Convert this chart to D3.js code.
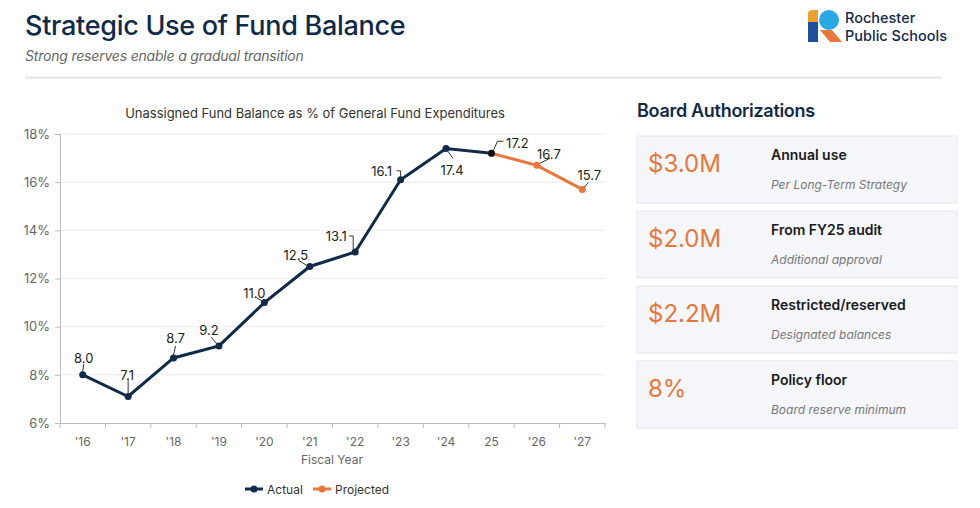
<!DOCTYPE html>
<html>
<head>
<meta charset="utf-8">
<script src="https://cdn.jsdelivr.net/npm/d3@7"></script>
<style>
  body { margin: 0; background: #fff; font-family: Inter, "Noto Sans", sans-serif; }
  svg text { font-family: Inter, "Noto Sans", sans-serif; }
</style>
</head>
<body>
<div id="chart"></div>
<script>
// data
const years = ["'16", "'17", "'18", "'19", "'20", "'21", "'22", "'23", "'24", "25", "'26", "'27"];
const actual = [8.0, 7.1, 8.7, 9.2, 11.0, 12.5, 13.1, 16.1, 17.4, 17.2, null, null];
const projected = [null, null, null, null, null, null, null, null, null, 17.2, 16.7, 15.7];
const yTicks = [6, 8, 10, 12, 14, 16, 18];

const cardValues = ["$3.0M", "$2.0M", "$2.2M", "8%"];
const cardTitles = ["Annual use", "From FY25 audit", "Restricted/reserved", "Policy floor"];
const cardNotes = ["Per Long-Term Strategy", "Additional approval", "Designated balances", "Board reserve minimum"];

// label placement: label offset from point + leader path relative to point
const labelPlace = [
  { dx: 1, dy: -16, leader: [[0, -3], [1, -11]] },
  { dx: -1, dy: -21, leader: [[0, -3], [0, -17]] },
  { dx: 2, dy: -19, leader: [[0, -3], [2, -12]] },
  { dx: -10, dy: -15, leader: [[-2, -2], [-8, -9]] },
  { dx: -10, dy: -9, leader: [[-3, -2], [-8, -5]] },
  { dx: -14, dy: -10, leader: [[-3, -1], [-11, -6]] },
  { dx: -19, dy: -15, leader: [[-2, -3], [-2, -16], [-6, -16]] },
  { dx: -19, dy: -8, leader: [[0, -3], [0, -9], [-4, -9]] },
  { dx: 6, dy: 23, leader: [[2, 3], [7, 10]] },
  { dx: 26, dy: -9, leader: [[2, -3], [6, -12], [12, -12]] },
  { dx: 12, dy: -10, leader: [[3, -2], [13, -7]] },
  { dx: 7, dy: -13, leader: [[2, -2], [6, -7]] }
];

const W = 980, H = 508;
const navy = "#0f2a4a", orange = "#e8773a";

const svg = d3.select("#chart").append("svg").attr("width", W).attr("height", H);

// header
svg.append("text").attr("x", 25).attr("y", 35).attr("font-size", 27).attr("font-weight", 500)
  .attr("fill", navy).attr("letter-spacing", -0.3).text("Strategic Use of Fund Balance");
svg.append("text").attr("x", 25).attr("y", 61).attr("font-size", 14).attr("font-style", "italic")
  .attr("fill", "#666").attr("letter-spacing", -0.2).text("Strong reserves enable a gradual transition");
svg.append("line").attr("x1", 25).attr("x2", 942).attr("y1", 77.5).attr("y2", 77.5)
  .attr("stroke", "#e2e4e8").attr("stroke-width", 2);

// logo
const logo = svg.append("g");
logo.append("path").attr("d", "M808,22 L808,14 Q808,10 812,10 L818,10 L818,22 Z").attr("fill", "#f0a030");
logo.append("rect").attr("x", 808).attr("y", 22).attr("width", 10).attr("height", 20).attr("fill", "#1d4f9c");
logo.append("circle").attr("cx", 829).attr("cy", 20).attr("r", 10).attr("fill", "#2aa8e6");
logo.append("path").attr("d", "M820,30 L832,30 L842,42 L830,42 Z").attr("fill", orange);
logo.append("text").attr("x", 845).attr("y", 22.5).attr("font-size", 14.5).attr("font-weight", 500)
  .attr("fill", navy).text("Rochester");
logo.append("text").attr("x", 845).attr("y", 40.5).attr("font-size", 14.5).attr("font-weight", 500)
  .attr("fill", navy).text("Public Schools");

// chart
const x = d3.scaleBand().domain(years).range([60, 605]);
const y = d3.scaleLinear().domain([6, 18]).range([423, 134]);
const cx = d => x(d) + x.bandwidth() / 2;

svg.append("text").attr("x", 315).attr("y", 118).attr("text-anchor", "middle")
  .attr("font-size", 13).attr("fill", "#333").text("Unassigned Fund Balance as % of General Fund Expenditures");

svg.append("g").selectAll("line").data(yTicks.slice(1)).join("line")
  .attr("x1", 60).attr("x2", 605).attr("y1", d => y(d)).attr("y2", d => y(d))
  .attr("stroke", "#ececf0").attr("stroke-width", 1);

const yAxis = svg.append("g").attr("transform", "translate(60,0)")
  .call(d3.axisLeft(y).tickValues(yTicks).tickFormat(d => d + "%").tickSize(5));
yAxis.select(".domain").attr("stroke", "#bbb");
yAxis.selectAll(".tick line").attr("stroke", "#bbb");
yAxis.selectAll("text").attr("font-size", 13).attr("fill", "#666").attr("x", -10);

const xAxis = svg.append("g").attr("transform", "translate(0,423)")
  .call(d3.axisBottom(x).tickSize(0).tickPadding(14));
xAxis.select(".domain").attr("stroke", "#bbb");
xAxis.selectAll("text").attr("font-size", 12).attr("fill", "#666");
// ticks at band edges
svg.append("g").selectAll("line").data(years.concat(["end"])).join("line")
  .attr("x1", (d, i) => 60 + i * x.step()).attr("x2", (d, i) => 60 + i * x.step())
  .attr("y1", 423).attr("y2", 428).attr("stroke", "#bbb");

svg.append("text").attr("x", 332).attr("y", 464).attr("text-anchor", "middle")
  .attr("font-size", 12).attr("fill", "#666").text("Fiscal Year");

// lines
const line = d3.line().defined(d => d.v != null).x(d => cx(d.k)).y(d => y(d.v));
const actualPts = years.map((k, i) => ({ k, v: actual[i] }));
const projPts = years.map((k, i) => ({ k, v: projected[i] }));

svg.append("path").datum(projPts).attr("d", line).attr("fill", "none")
  .attr("stroke", orange).attr("stroke-width", 3);
svg.append("path").datum(actualPts).attr("d", line).attr("fill", "none")
  .attr("stroke", navy).attr("stroke-width", 3);

svg.append("g").selectAll("circle").data(projPts.filter(d => d.v != null)).join("circle")
  .attr("cx", d => cx(d.k)).attr("cy", d => y(d.v)).attr("r", 3.5).attr("fill", orange);
svg.append("g").selectAll("circle").data(actualPts.filter(d => d.v != null)).join("circle")
  .attr("cx", d => cx(d.k)).attr("cy", d => y(d.v)).attr("r", 3.5)
  .attr("fill", d => d.k === "25" ? "#111" : navy);

// value labels with leaders
const allVals = years.map((k, i) => ({ k, v: actual[i] != null ? actual[i] : projected[i], p: labelPlace[i] }));
const lab = svg.append("g");
allVals.forEach(d => {
  const px = cx(d.k), py = y(d.v);
  lab.append("path")
    .attr("d", d3.line()(d.p.leader.map(q => [px + q[0], py + q[1]])))
    .attr("fill", "none").attr("stroke", "#333").attr("stroke-width", 1);
  lab.append("text").attr("x", px + d.p.dx).attr("y", py + d.p.dy + 4)
    .attr("text-anchor", "middle").attr("font-size", 13).attr("fill", "#222")
    .text(d3.format(".1f")(d.v));
});

// legend
const legend = svg.append("g").attr("transform", "translate(245,489)");
[["Actual", navy, 0], ["Projected", orange, 68]].forEach(([t, c, off]) => {
  const g = legend.append("g").attr("transform", `translate(${off},0)`);
  g.append("line").attr("x1", 0).attr("x2", 18).attr("stroke", c).attr("stroke-width", 3);
  g.append("circle").attr("cx", 9).attr("r", 3.5).attr("fill", c);
  g.append("text").attr("x", 22).attr("y", 4.5).attr("font-size", 12).attr("fill", "#333").text(t);
});

// right panel
svg.append("text").attr("x", 637).attr("y", 117).attr("font-size", 18).attr("font-weight", 600)
  .attr("fill", navy).attr("letter-spacing", -0.3).text("Board Authorizations");

const cards = svg.append("g").selectAll("g").data(cardValues).join("g")
  .attr("transform", (d, i) => `translate(637,${136 + i * 75})`);
cards.append("rect").attr("width", 320).attr("height", 67)
  .attr("fill", "#f4f6fa").attr("stroke", "#e3e6eb");
cards.append("text").attr("x", 11).attr("y", 36).attr("font-size", 24).attr("fill", orange)
  .text(d => d);
cards.append("text").attr("x", 134).attr("y", 24).attr("font-size", 14).attr("font-weight", 600)
  .attr("fill", "#1a1a1a").text((d, i) => cardTitles[i]);
cards.append("text").attr("x", 134).attr("y", 53).attr("font-size", 12).attr("font-style", "italic")
  .attr("fill", "#777").text((d, i) => cardNotes[i]);
</script>
</body>
</html>
